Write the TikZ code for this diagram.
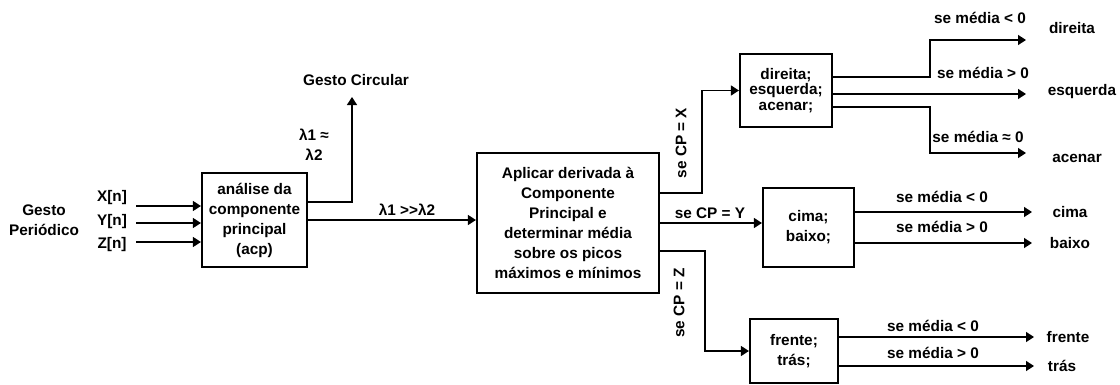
\documentclass[tikz,border=0pt]{standalone}
\usepackage{fontspec}
\setmainfont{Liberation Sans}
\usetikzlibrary{positioning,arrows.meta,calc}

\begin{document}
\begin{tikzpicture}[x=0.75pt, y=-0.75pt,
  txt/.style={font=\bfseries\fontsize{11.5}{15}\selectfont, align=center, inner sep=1pt},
  box/.style={txt, draw, line width=1.6pt, inner sep=2pt},
  arr/.style={-{Triangle[length=6pt,width=7.5pt]}, line width=1pt},
  ln/.style={line width=1pt}
]
\useasboundingbox (0,0) rectangle (1120,385);
% blocos
\node[box, minimum width=78.75pt, minimum height=70.5pt] (acp) at (254.5,220) {análise da\\componente\\principal\\(acp)};
\node[box, minimum width=136.5pt, minimum height=105pt] (deriv) at (568,223) {Aplicar derivada à\\Componente\\Principal e\\determinar média\\sobre os picos\\máximos e mínimos};
\node[box, minimum width=69pt, minimum height=54.75pt, font=\bfseries\fontsize{11.5}{11.5}\selectfont] (dir) at (786,90.5) {direita;\\esquerda;\\acenar;};
\node[box, minimum width=68.25pt, minimum height=59.25pt] (cima) at (808.5,227.5) {cima;\\baixo;};
\node[box, minimum width=66pt, minimum height=48pt] (frente) at (794,351) {frente;\\trás;};
% entradas
\node[txt] (gesto) at (44,220) {Gesto\\Periódico};
\foreach \n/\y/\ly/\lab in {xin/206/198/X[n], yin/223/222/Y[n], zin/242/245/Z[n]} {
  \node[txt] (\n) at (112,\ly) {\lab};
  \coordinate (\n s) at (136,\y);
  \draw[arr] (\n s) -- (\n s -| acp.west);
}
% gesto circular
\node[txt] (circ) at (356,80) {Gesto Circular};
\node[txt] (lapprox) at (314,145) {λ1 ≈\\λ2};
\coordinate (tcirc) at (352,97);
\draw[arr] ($(acp.east)+(0,-18)$) -| (tcirc);
\draw[arr] (acp.east) -- (acp.east -| deriv.west);
\node[txt] (lgg) at (407,210) {λ1 {>}{>}λ2};
% saidas da derivada
\draw[arr] ($(deriv.east)+(0,-30)$) -- ++(42,0) |- (dir.west);
\node[txt, rotate=90] (cpx) at (681,143) {se CP = X};
\draw[arr] (deriv.east) -- (deriv.east -| cima.west);
\node[txt] (cpy) at (710,213) {se CP = Y};
\draw[arr] ($(deriv.east)+(0,28)$) -- ++(45,0) |- (frente.west);
\node[txt, rotate=90] (cpz) at (679,303) {se CP = Z};
% direita / esquerda / acenar
\coordinate (tdir) at (1026,40);
\coordinate (tesq) at (1026,94);
\coordinate (tacen) at (1026,153);
\draw[arr] ($(dir.east)+(0,-13.5)$) -- (930,77) |- (tdir);
\draw[arr] ($(dir.east)+(0,3.5)$) -- (tesq);
\draw[arr] ($(dir.east)+(0,16.5)$) -- (930,107) |- (tacen);
\node[txt] (m1) at (980,18) {se média < 0};
\node[txt] (m2) at (983,73) {se média > 0};
\node[txt] (m3) at (978,137) {se média ≈ 0};
\node[txt] (odir) at (1072,28) {direita};
\node[txt] (oesq) at (1082,92) {esquerda};
\node[txt] (oacen) at (1077,158) {acenar};
% cima / baixo
\coordinate (tcima) at (1032,212);
\coordinate (tbaixo) at (1032,243);
\draw[arr] (cima.east |- tcima) -- (tcima);
\draw[arr] (cima.east |- tbaixo) -- (tbaixo);
\node[txt] (m4) at (942,197) {se média < 0};
\node[txt] (m5) at (942,227) {se média > 0};
\node[txt] (ocima) at (1070,212) {cima};
\node[txt] (obaixo) at (1070,243) {baixo};
% frente / tras
\coordinate (tfrente) at (1034,337);
\coordinate (ttras) at (1034,366);
\draw[arr] (frente.east |- tfrente) -- (tfrente);
\draw[arr] (frente.east |- ttras) -- (ttras);
\node[txt] (m6) at (933,326) {se média < 0};
\node[txt] (m7) at (933,353) {se média > 0};
\node[txt] (ofrente) at (1068,337) {frente};
\node[txt] (otras) at (1062,366) {trás};
\end{tikzpicture}
\end{document}
